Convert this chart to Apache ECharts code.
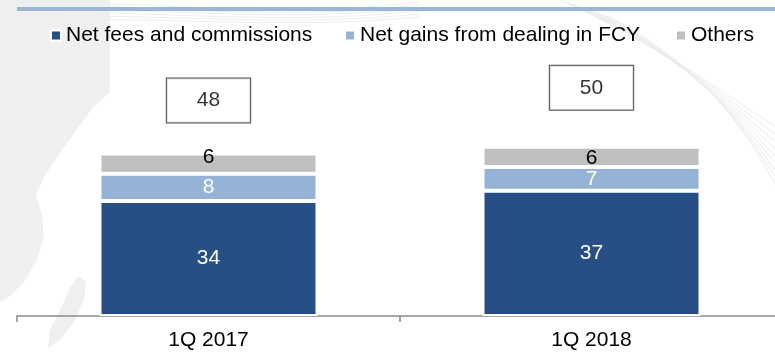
<!DOCTYPE html>
<html>
<head>
<meta charset="utf-8">
<title>Non-interest income</title>
<script src="https://cdn.jsdelivr.net/npm/echarts@6/dist/echarts.min.js"></script>
<style>
  html, body { margin: 0; padding: 0; background: #ffffff; }
  #chart { width: 775px; height: 352px; }
</style>
</head>
<body>
<div id="chart"></div>
<script>
// Quarterly non-interest income by component
const quarters = ['1Q 2017', '1Q 2018'];
const netFees = [34, 37];
const fxGains = [8, 7];
const others = [6, 6];
const seriesNames = ['Net fees and commissions', 'Net gains from dealing in FCY', 'Others'];

// Stack totals shown in the boxes above each bar
const totals = quarters.map((_, i) => netFees[i] + fxGains[i] + others[i]);

// Layout helpers (pixels)
const totalBoxGap = [31, 37];
const othersLabelShift = [-6, 1];

const FONT = 'Liberation Sans, Arial, sans-serif';
const FS = 21;
const DARK = '#264f85';
const LIGHT = '#95b3d7';
const GREY = '#bfbfbf';

// Faint decorative strands in the upper right corner and along the header
const strands = [];
for (let k = 0; k < 9; k++) {
  const d = k * 6;
  strands.push({
    type: 'bezierCurve',
    z: -10,
    silent: true,
    shape: {
      x1: 560 + d, y1: 0 + k * 2,
      cpx1: 650 + d, cpy1: 40 + k * 3,
      cpx2: 720 + d * 0.5, cpy2: 90 + k * 4,
      x2: 780, y2: 130 + k * 8
    },
    style: { stroke: '#ececec', lineWidth: 1, fill: null }
  });
}
for (let k = 0; k < 6; k++) {
  strands.push({
    type: 'bezierCurve',
    z: -10,
    silent: true,
    shape: {
      x1: 0, y1: 4 + k * 4,
      cpx1: 120, cpy1: -4 + k * 3,
      cpx2: 260, cpy2: 22 + k * 2,
      x2: 420, y2: 2 + k * 3
    },
    style: { stroke: '#eeeeee', lineWidth: 1, fill: null }
  });
}

const chart = echarts.init(document.getElementById('chart'));

chart.setOption({
  backgroundColor: '#ffffff',
  animation: false,
  textStyle: { fontFamily: FONT },
  graphic: [
    // pale coastline silhouette on the left
    {
      type: 'polygon',
      z: -20,
      silent: true,
      shape: {
        points: [
          [0, 0], [110, 0], [110, 92], [95, 105], [80, 125], [62, 150],
          [45, 175], [36, 195], [42, 215], [44, 238], [36, 262],
          [24, 282], [10, 296], [0, 302]
        ]
      },
      style: { fill: '#f0f0f0' }
    },
    {
      type: 'polygon',
      z: -20,
      silent: true,
      shape: {
        points: [
          [78, 276], [86, 282], [84, 300], [74, 322], [60, 340],
          [48, 348], [50, 330], [62, 306], [70, 288]
        ]
      },
      style: { fill: '#efefef' }
    },
    ...strands,
    // header rule
    {
      type: 'rect',
      z: 10,
      silent: true,
      shape: { x: 17, y: 7, width: 760, height: 4 },
      style: { fill: '#9ab5d5' }
    }
  ],
  legend: seriesNames.map((name, i) => ({
    show: true,
    data: [name],
    left: [50, 344, 675][i],
    top: 25,
    icon: 'rect',
    itemWidth: 10,
    itemHeight: 10,
    itemGap: 0,
    padding: 0,
    textStyle: { fontSize: FS, color: '#000', fontFamily: FONT },
    selectedMode: false
  })),
  grid: {
    left: 17, top: 79, width: 766, bottom: 36,
    containLabel: false,
    outerBoundsMode: 'none'
  },
  xAxis: {
    type: 'category',
    data: quarters,
    axisLine: { lineStyle: { color: '#8a8a8a', width: 1.5 } },
    axisTick: { show: true, length: 6, lineStyle: { color: '#8a8a8a', width: 1.5 } },
    axisLabel: { fontSize: FS, color: '#000', margin: 14, fontFamily: FONT },
    splitLine: { show: false }
  },
  yAxis: {
    type: 'value',
    min: 0,
    max: 70,
    show: false,
    splitLine: { show: false }
  },
  series: [
    {
      name: seriesNames[0],
      type: 'bar',
      stack: 'income',
      barWidth: 218,
      data: netFees,
      itemStyle: { color: DARK, borderColor: '#ffffff', borderWidth: 2 },
      label: { show: true, position: 'inside', color: '#fff', fontSize: FS, fontFamily: FONT }
    },
    {
      name: seriesNames[1],
      type: 'bar',
      stack: 'income',
      barWidth: 218,
      data: fxGains,
      itemStyle: { color: LIGHT, borderColor: '#ffffff', borderWidth: 2 },
      label: { show: true, position: 'inside', color: '#fff', fontSize: FS, fontFamily: FONT }
    },
    {
      name: seriesNames[2],
      type: 'bar',
      stack: 'income',
      barWidth: 218,
      data: others.map((v, i) => ({
        value: v,
        label: { offset: [0, othersLabelShift[i]] }
      })),
      itemStyle: { color: GREY, borderColor: '#ffffff', borderWidth: 2 },
      label: { show: true, position: 'inside', color: '#000', fontSize: FS, fontFamily: FONT }
    },
    {
      name: 'Total',
      type: 'scatter',
      symbolSize: 0,
      silent: true,
      data: totals.map((v, i) => ({
        value: v,
        label: { distance: totalBoxGap[i] }
      })),
      label: {
        show: true,
        position: 'top',
        color: '#000',
        fontSize: FS,
        fontFamily: FONT,
        lineHeight: 20,
        backgroundColor: '#ffffff',
        borderColor: '#222',
        borderWidth: 1,
        padding: [12, 30, 12, 30]
      }
    }
  ]
});
</script>
</body>
</html>
